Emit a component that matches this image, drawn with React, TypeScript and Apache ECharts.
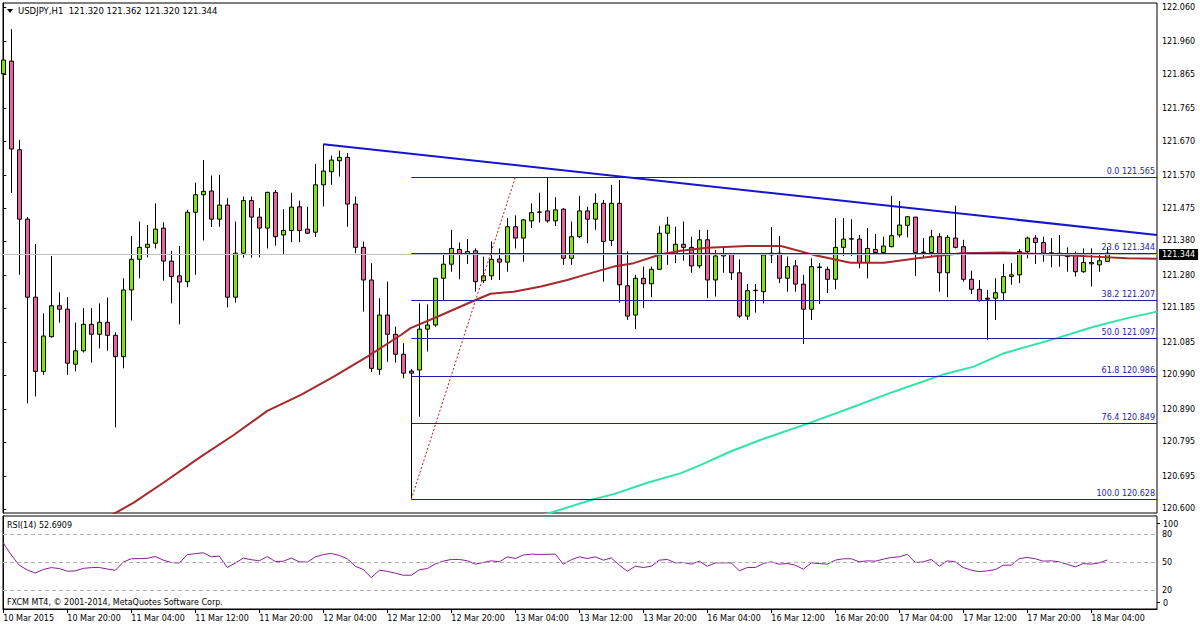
import React, { useEffect, useRef } from "react";
import * as echarts from "echarts";

// ---------- DATA (hourly bars, index 0 = 10 Mar 2015 12:00) ----------
const symbolName = "USDJPY,H1";

const opens = [
  121.866, 121.903, 121.645, 121.443, 121.216, 121.000, 121.101, 121.191, 121.181, 121.021,
  121.060, 121.137, 121.108, 121.143, 121.105, 121.043, 121.237, 121.326, 121.361, 121.373,
  121.417, 121.321, 121.278, 121.261, 121.463, 121.514, 121.525, 121.443, 121.484, 121.216,
  121.344, 121.497, 121.449, 121.417, 121.521, 121.397, 121.410, 121.479, 121.414, 121.405,
  121.543, 121.581, 121.613, 121.623, 121.487, 121.361, 121.266, 121.006, 121.164, 121.108,
  121.050, 121.001, 121.004, 121.123, 121.135, 121.271, 121.312, 121.355, 121.341, 121.351,
  121.264, 121.278, 121.327, 121.318, 121.421, 121.388, 121.438, 121.464, 121.467, 121.438,
  121.472, 121.329, 121.392, 121.467, 121.443, 121.489, 121.381, 121.489, 121.249, 121.164,
  121.271, 121.255, 121.297, 121.402, 121.341, 121.370, 121.361, 121.307, 121.383, 121.266,
  121.336, 121.341, 121.287, 121.161, 121.235, 121.232, 121.339, 121.344, 121.271, 121.307,
  121.254, 121.181, 121.302, 121.297, 121.268, 121.361, 121.385, 121.385, 121.317, 121.355,
  121.346, 121.363, 121.397, 121.425, 121.449, 121.346, 121.346, 121.392, 121.287, 121.388,
  121.363, 121.268, 121.239, 121.213, 121.213, 121.229, 121.276, 121.281, 121.349, 121.388,
  121.375, 121.344, 121.344, 121.339, 121.339, 121.290, 121.313, 121.310, 121.320,
];
const closes = [
  121.906, 121.647, 121.443, 121.216, 121.000, 121.103, 121.191, 121.181, 121.024, 121.060,
  121.137, 121.108, 121.143, 121.105, 121.043, 121.237, 121.326, 121.361, 121.370, 121.414,
  121.321, 121.276, 121.260, 121.463, 121.514, 121.524, 121.443, 121.484, 121.216, 121.344,
  121.497, 121.449, 121.417, 121.521, 121.392, 121.410, 121.478, 121.410, 121.402, 121.543,
  121.583, 121.615, 121.623, 121.487, 121.361, 121.266, 121.009, 121.164, 121.108, 121.050,
  120.995, 120.995, 121.123, 121.135, 121.271, 121.312, 121.358, 121.341, 121.349, 121.261,
  121.278, 121.326, 121.318, 121.421, 121.388, 121.441, 121.462, 121.463, 121.438, 121.470,
  121.329, 121.392, 121.467, 121.443, 121.489, 121.378, 121.489, 121.252, 121.161, 121.271,
  121.255, 121.297, 121.402, 121.426, 121.370, 121.361, 121.307, 121.383, 121.266, 121.336,
  121.341, 121.287, 121.161, 121.235, 121.236, 121.339, 121.344, 121.271, 121.305, 121.254,
  121.181, 121.305, 121.304, 121.268, 121.361, 121.385, 121.386, 121.317, 121.358, 121.346,
  121.365, 121.395, 121.426, 121.450, 121.346, 121.347, 121.392, 121.287, 121.390, 121.361,
  121.268, 121.239, 121.206, 121.210, 121.229, 121.276, 121.281, 121.349, 121.388, 121.375,
  121.344, 121.345, 121.339, 121.334, 121.290, 121.317, 121.317, 121.322, 121.344,
];
const highs = [
  121.941, 121.996, 121.674, 121.449, 121.371, 121.169, 121.336, 121.230, 121.216, 121.142,
  121.184, 121.184, 121.198, 121.215, 121.114, 121.271, 121.394, 121.436, 121.426, 121.489,
  121.434, 121.351, 121.365, 121.470, 121.549, 121.615, 121.570, 121.572, 121.504, 121.436,
  121.509, 121.509, 121.475, 121.523, 121.528, 121.472, 121.520, 121.497, 121.479, 121.604,
  121.661, 121.628, 121.642, 121.635, 121.509, 121.378, 121.315, 121.213, 121.261, 121.130,
  121.082, 121.007, 121.198, 121.195, 121.272, 121.339, 121.412, 121.375, 121.385, 121.358,
  121.334, 121.378, 121.358, 121.446, 121.454, 121.444, 121.489, 121.520, 121.565, 121.507,
  121.475, 121.436, 121.511, 121.479, 121.518, 121.499, 121.543, 121.557, 121.349, 121.281,
  121.305, 121.305, 121.423, 121.450, 121.421, 121.436, 121.392, 121.412, 121.412, 121.353,
  121.365, 121.344, 121.326, 121.254, 121.254, 121.344, 121.420, 121.394, 121.334, 121.324,
  121.281, 121.329, 121.315, 121.305, 121.446, 121.446, 121.443, 121.397, 121.417, 121.400,
  121.392, 121.511, 121.496, 121.452, 121.449, 121.388, 121.412, 121.402, 121.397, 121.482,
  121.383, 121.293, 121.266, 121.237, 121.271, 121.313, 121.315, 121.356, 121.392, 121.397,
  121.392, 121.388, 121.397, 121.361, 121.349, 121.358, 121.358, 121.344, 121.362,
];
const lows = [
  121.741, 121.519, 121.281, 120.907, 120.927, 120.990, 121.098, 121.142, 120.990, 121.000,
  121.055, 121.026, 121.067, 121.060, 120.837, 121.009, 121.148, 121.271, 121.332, 121.358,
  121.264, 121.198, 121.137, 121.245, 121.281, 121.381, 121.420, 121.421, 121.186, 121.200,
  121.331, 121.331, 121.332, 121.358, 121.366, 121.342, 121.376, 121.376, 121.400, 121.391,
  121.480, 121.543, 121.567, 121.421, 121.344, 121.174, 120.998, 120.990, 121.028, 121.026,
  120.980, 120.628, 120.868, 121.058, 121.130, 121.208, 121.290, 121.268, 121.313, 121.232,
  121.257, 121.266, 121.266, 121.290, 121.358, 121.319, 121.417, 121.433, 121.433, 121.423,
  121.310, 121.310, 121.388, 121.373, 121.412, 121.261, 121.365, 121.200, 121.150, 121.123,
  121.184, 121.216, 121.295, 121.310, 121.315, 121.322, 121.287, 121.300, 121.213, 121.218,
  121.287, 121.266, 121.156, 121.150, 121.171, 121.198, 121.315, 121.257, 121.232, 121.232,
  121.080, 121.150, 121.196, 121.228, 121.239, 121.336, 121.336, 121.300, 121.271, 121.342,
  121.339, 121.361, 121.390, 121.390, 121.278, 121.329, 121.332, 121.232, 121.216, 121.358,
  121.261, 121.225, 121.203, 121.092, 121.150, 121.208, 121.252, 121.257, 121.329, 121.313,
  121.319, 121.303, 121.305, 121.290, 121.276, 121.287, 121.247, 121.290, 121.320,
];

const rsiValues = [
  71, 58, 47, 42, 38.7, 42.5, 44.5, 43.5, 40.6, 41,
  43.7, 44.5, 44.6, 43, 41.6, 50.5, 54, 54.2, 54.5, 56.5,
  52.5, 50, 49.4, 58.5, 59.5, 60.5, 56.1, 56.9, 44.6, 49.5,
  54.7, 53, 51.8, 56.5, 51, 51.4, 54.7, 50.7, 50.4, 56,
  58.5, 59.8, 57.5, 54, 46, 42.4, 33.7, 41.7, 40.5, 38.5,
  36.3, 36.3, 42.2, 43.5, 48.5, 51.5, 53.3, 53.3, 51.8, 48.2,
  50, 51.8, 50.7, 56.1, 54.3, 58, 59, 58.7, 58.8, 59,
  48.2, 53, 56.1, 54.3, 56.1, 52.5, 55, 47.1, 40.6, 46,
  44.6, 46, 52.5, 53.3, 49.6, 50, 48.2, 51.4, 46, 49.6,
  49.6, 49.6, 41, 44.6, 44.6, 49, 50.7, 48.2, 48.9, 47.1,
  42.8, 49.6, 48.9, 48.2, 52.5, 54, 54, 50.7, 51.8, 51.4,
  53.6, 55.4, 56.1, 58.7, 50, 50.7, 53.3, 46, 51.8, 50.7,
  44.6, 41.7, 40.2, 41, 42.4, 47.1, 47.1, 54.3, 55.4, 54,
  51.4, 51.8, 50.7, 48, 45.3, 48.9, 48.2, 49.6, 52.6909,
];

// Moving averages: [bar index, price]
const maBrownIdx = [13, 16.3, 20, 24.7, 28.8, 33, 37.2, 41.3, 45.5, 49.7, 50.9, 54.25, 59.25, 60.9, 63.8, 67.2, 70.5, 73, 76.3, 78.8, 82.2, 84.7, 88, 93, 97.2, 101.3, 105.9, 110.1, 114.25, 119.7, 125, 132.2, 136.3, 140.5, 144.2];
const maBrownVal = [120.575, 120.618, 120.676, 120.752, 120.815, 120.885, 120.932, 120.985, 121.043, 121.106, 121.126, 121.159, 121.21, 121.226, 121.232, 121.247, 121.266, 121.283, 121.305, 121.315, 121.341, 121.351, 121.36, 121.365, 121.365, 121.339, 121.316, 121.316, 121.329, 121.344, 121.346, 121.339, 121.334, 121.329, 121.328];
const maGreenIdx = [66.5, 73.8, 76.3, 80.5, 84.7, 87.2, 90.9, 94.7, 100.9, 106.3, 111.3, 117.6, 121.3, 125.1, 131.3, 136.3, 140.5, 144.2];
const maGreenVal = [120.575, 120.628, 120.643, 120.676, 120.704, 120.728, 120.767, 120.801, 120.851, 120.897, 120.941, 120.992, 121.014, 121.053, 121.094, 121.13, 121.155, 121.174];

// Trend line (bar index, price)
const trendIdx = [40, 144.21];
const trendVal = [121.661, 121.397];

// Fibonacci retracement
const fibAnchorIdx = [51, 64];
const fibAnchorVal = [120.628, 121.565];
const fibPct = ["0.0", "23.6", "38.2", "50.0", "61.8", "76.4", "100.0"];
const fibVal = [121.565, 121.344, 121.207, 121.097, 120.986, 120.849, 120.628];

// Axis ticks / labels
const priceTicks = [120.6, 120.695, 120.795, 120.89, 120.99, 121.085, 121.185, 121.28, 121.38, 121.475, 121.57, 121.67, 121.765, 121.865, 121.96, 122.06];
const rsiTicks = [20, 50, 80];
const rsiLevels = [20, 50, 80];
const timeIdx = [0, 8, 16, 24, 32, 40, 48, 56, 64, 72, 80, 88, 96, 104, 112, 120, 128, 136];
const timeLabels = [
  "10 Mar 2015", "10 Mar 20:00", "11 Mar 04:00", "11 Mar 12:00", "11 Mar 20:00", "12 Mar 04:00",
  "12 Mar 12:00", "12 Mar 20:00", "13 Mar 04:00", "13 Mar 12:00", "13 Mar 20:00", "16 Mar 04:00",
  "16 Mar 12:00", "16 Mar 20:00", "17 Mar 04:00", "17 Mar 12:00", "17 Mar 20:00", "18 Mar 04:00",
];

// ---------- STYLE ----------
const FONT = "DejaVu Sans";
const BULL = "#7fe01f";
const BEAR = "#e5649a";
const FIB_COLOR = "#1c1cb0";
const X_MIN = -0.04;
const X_MAX = 144.21;

export default function App() {
  const ref = useRef<HTMLDivElement>(null);

  useEffect(() => {
    if (!ref.current) return;
    const chart = echarts.init(ref.current, undefined, { renderer: "svg" });
    const last = opens.length - 1;
    const lastClose = closes[last];
    const candleData = opens.map((o, i) => [i, o, closes[i], lows[i], highs[i]]);
    const header = `${symbolName}  ${opens[last].toFixed(3)} ${highs[last].toFixed(3)} ${lows[last].toFixed(3)} ${closes[last].toFixed(3)}`;
    const txt = (text: string, x: number, y: number, size = 8) => ({
      type: "text", x, y, z: 100, silent: true,
      style: { text, fontSize: size, fill: "#000", verticalAlign: "middle", align: "left", fontFamily: FONT },
    });

    const option: any = {
      animation: false,
      backgroundColor: "#ffffff",
      textStyle: { fontFamily: FONT },
      grid: [
        { left: 3, right: 43, top: 3, height: 510, show: true, borderColor: "#000", borderWidth: 1 },
        { left: 3, right: 43, top: 516, height: 93, show: true, borderColor: "#000", borderWidth: 1 },
      ],
      xAxis: [
        { type: "value", gridIndex: 0, min: X_MIN, max: X_MAX, show: false },
        {
          type: "value", gridIndex: 1, min: X_MIN, max: X_MAX,
          axisLine: { show: true, lineStyle: { color: "#000" } },
          splitLine: { show: false },
          axisTick: { show: true, customValues: timeIdx, length: 4, lineStyle: { color: "#000" } },
          axisLabel: {
            customValues: timeIdx,
            formatter: (v: number) => timeLabels[timeIdx.indexOf(Math.round(v))] ?? "",
            align: "left", margin: 5, fontSize: 8, color: "#000", fontFamily: FONT,
          },
        },
      ],
      yAxis: [
        {
          type: "value", gridIndex: 0, position: "right", min: 120.588, max: 122.072,
          splitLine: { show: false },
          axisLine: { show: true, lineStyle: { color: "#000" } },
          axisTick: { show: true, customValues: priceTicks, length: 3, lineStyle: { color: "#000" } },
          axisLabel: {
            customValues: priceTicks, formatter: (v: number) => v.toFixed(3),
            margin: 5, fontSize: 8, color: "#000", fontFamily: FONT,
          },
        },
        {
          type: "value", gridIndex: 1, position: "right", min: 0, max: 100,
          splitLine: { show: false },
          axisLine: { show: true, lineStyle: { color: "#000" } },
          axisTick: { show: true, customValues: rsiTicks, length: 3, lineStyle: { color: "#000" } },
          axisLabel: { customValues: rsiTicks, margin: 5, fontSize: 8, color: "#000", fontFamily: FONT },
        },
      ],
      graphic: {
        elements: [
          { type: "polygon", silent: true, z: 100, shape: { points: [[7, 9], [13, 9], [10, 13]] }, style: { fill: "#000" } },
          txt(header, 18, 11, 8.5),
          txt(`RSI(14) ${rsiValues[last].toFixed(4)}`, 7, 525),
          txt("FXCM MT4, © 2001-2014, MetaQuotes Software Corp.", 7, 602),
          // MT4 keeps the 100 / 0 RSI scale labels inside the window
          { type: "line", silent: true, z: 100, shape: { x1: 1157, y1: 523.5, x2: 1160, y2: 523.5 }, style: { stroke: "#000", lineWidth: 1 } },
          txt("100", 1163, 524),
          { type: "line", silent: true, z: 100, shape: { x1: 1157, y1: 602.5, x2: 1160, y2: 602.5 }, style: { stroke: "#000", lineWidth: 1 } },
          txt("0", 1163, 603),
        ],
      },
      series: [
        {
          type: "candlestick", xAxisIndex: 0, yAxisIndex: 0,
          dimensions: ["idx", "open", "close", "lowest", "highest"],
          encode: { x: 0, y: [1, 2, 3, 4] },
          data: candleData,
          barWidth: 5,
          silent: true,
          z: 3,
          itemStyle: {
            color: BULL, color0: BEAR, borderColor: "#000", borderColor0: "#000",
            borderColorDoji: "#000", borderWidth: 1,
          },
          markLine: {
            silent: true, symbol: ["none", "none"],
            lineStyle: { color: "#c0c0c0", width: 1, type: "solid" },
            label: {
              show: true, position: "end", formatter: lastClose.toFixed(3),
              backgroundColor: "#000", color: "#fff", padding: [2, 3, 1, 3],
              fontSize: 8, distance: 2, fontFamily: FONT,
            },
            data: [{ yAxis: lastClose }],
          },
        },
        {
          type: "line", xAxisIndex: 0, yAxisIndex: 0, symbol: "none", silent: true, z: 4,
          data: maBrownIdx.map((x, i) => [x, maBrownVal[i]]),
          lineStyle: { color: "#a8282c", width: 2 },
        },
        {
          type: "line", xAxisIndex: 0, yAxisIndex: 0, symbol: "none", silent: true, z: 4,
          data: maGreenIdx.map((x, i) => [x, maGreenVal[i]]),
          lineStyle: { color: "#2ee6a2", width: 2 },
        },
        {
          type: "line", xAxisIndex: 0, yAxisIndex: 0, symbol: "none", silent: true, z: 5,
          data: trendIdx.map((x, i) => [x, trendVal[i]]),
          lineStyle: { color: "#1414d2", width: 2 },
        },
        {
          type: "line", xAxisIndex: 0, yAxisIndex: 0, symbol: "none", silent: true, z: 5,
          data: fibAnchorIdx.map((x, i) => [x, fibAnchorVal[i]]),
          lineStyle: { color: "#d01010", width: 1, type: [2, 2] },
          markLine: {
            silent: true, symbol: ["none", "none"],
            lineStyle: { color: FIB_COLOR, width: 1, type: "solid" },
            label: {
              show: true, position: "insideEndTop", color: FIB_COLOR, fontSize: 8,
              distance: 2, fontFamily: FONT, formatter: (p: any) => p.name,
            },
            data: fibVal.map((v, i) => [
              { coord: [fibAnchorIdx[0], v], name: `${fibPct[i]} ${v.toFixed(3)}` },
              { coord: [X_MAX, v] },
            ]),
          },
        },
        {
          type: "line", xAxisIndex: 1, yAxisIndex: 1, symbol: "none", silent: true,
          data: rsiValues.map((v, i) => [i, v]),
          lineStyle: { color: "#8b1c9c", width: 1 },
          markLine: {
            silent: true, symbol: ["none", "none"], label: { show: false },
            lineStyle: { color: "#b0b0b0", width: 1, type: [4, 3] },
            data: rsiLevels.map((v) => ({ yAxis: v })),
          },
        },
      ],
    };

    chart.setOption(option);
    return () => chart.dispose();
  }, []);

  return (
    <div
      ref={ref}
      style={{ position: "absolute", left: 0, top: 0, width: 1200, height: 627, background: "#fff" }}
    />
  );
}
